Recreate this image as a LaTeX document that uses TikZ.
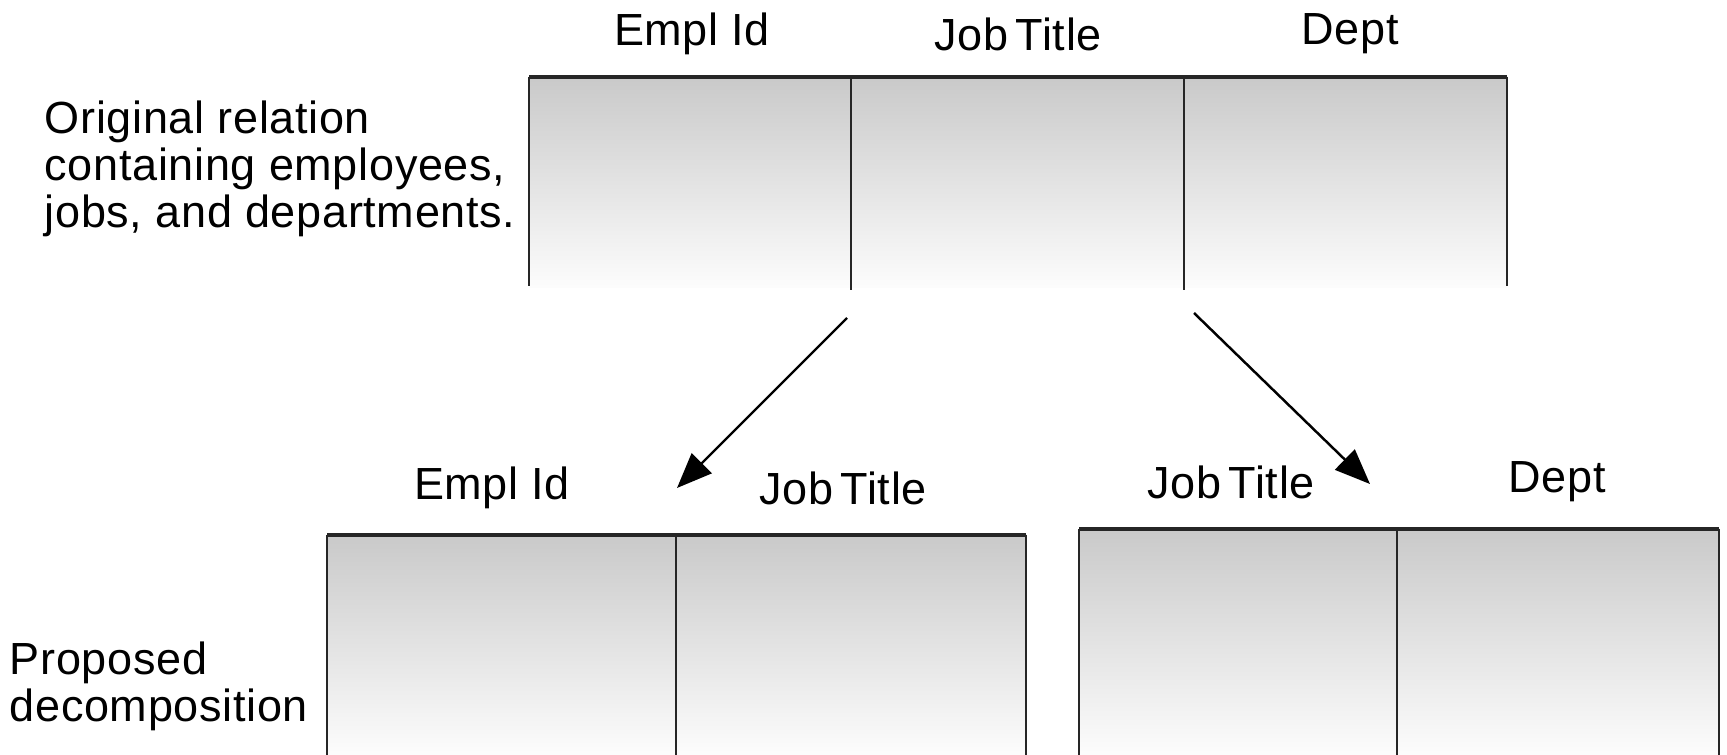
\documentclass[tikz,border=0pt]{standalone}
\usepackage{fontspec}
\setmainfont[LetterSpace=1.5]{Liberation Sans}
\usetikzlibrary{arrows.meta}
\tikzset{
  colfill/.style={top color=black!21,bottom color=black!1},
  rim/.style={draw=black!85,line width=1.3pt},
  sep/.style={draw=black!85,line width=0.8pt},
  split/.style={-{Triangle[length=10pt,width=8pt]},line width=0.7pt},
  remark/.style={anchor=north west,align=left,inner sep=0pt}
}
\begin{document}
\begin{tikzpicture}[x=0.01cm,y=-0.01cm,font=\fontsize{12.8}{13.4}\selectfont]
\useasboundingbox (0,0) rectangle (1727,755);

% relation bodies
\shade[colfill] (529,77) rectangle (1507,288);
\shade[colfill] (327,535) rectangle (1026,755);
\shade[colfill] (1079,529) rectangle (1719,755);

% column separators
\foreach \x/\top/\bot in {529/77/286, 851/77/290, 1184/77/290, 1507/77/286,
                          327/535/755, 676/535/755, 1026/535/755,
                          1079/529/755, 1397/529/755, 1719/529/755}
    \draw[sep] (\x,\top) -- (\x,\bot);

% top rims
\draw[rim] (529,77) -- (1507,77);
\draw[rim] (327,535) -- (1026,535);
\draw[rim] (1079,529) -- (1719,529);

% attribute names
\foreach \name/\x/\y/\text in {origE/692/34/Empl Id, origJ/1018/34/Job\,Title, origD/1350/34/Dept,
                               leftE/492/488/Empl Id, leftJ/843/488/Job\,Title,
                               rightJ/1231/482/Job\,Title, rightD/1557/482/Dept}
    \node (\name) at (\x,\y) {\text};

% captions
\node[remark] (orig) at (44,100) {Original relation\\containing employees,\\jobs, and departments.};
\node[remark] (prop) at (9,641) {Proposed\\decomposition};

% decomposition arrows
\coordinate (fromJ) at (847,318);
\coordinate (intoL) at (677,488);
\coordinate (fromD) at (1194,313);
\coordinate (intoR) at (1370,484);
\draw[split] (fromJ) -- (intoL);
\draw[split] (fromD) -- (intoR);
\end{tikzpicture}
\end{document}
